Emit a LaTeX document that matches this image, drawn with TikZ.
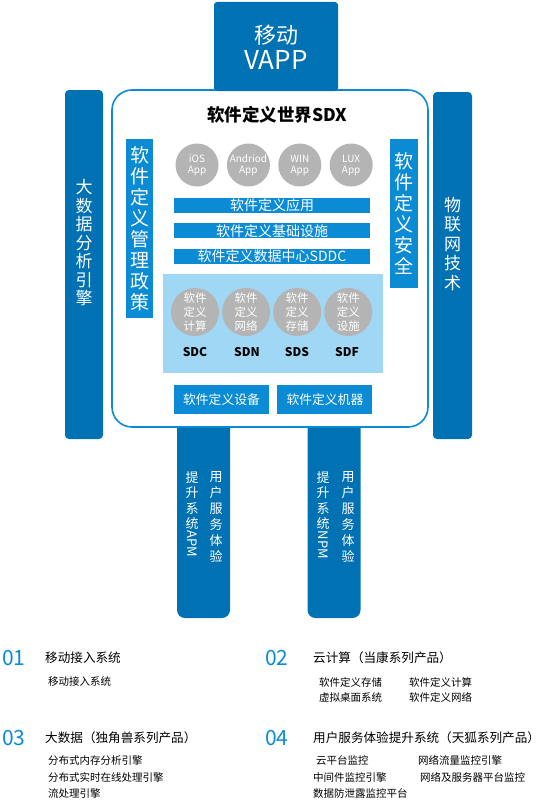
\documentclass[tikz,border=0pt]{standalone}
\usepackage{graphicx}
\usepackage{fontspec}
\setmainfont{Noto Sans CJK SC}
\usetikzlibrary{positioning}
\definecolor{darkblue}{HTML}{0071B3}
\definecolor{midblue}{HTML}{0A8BD4}
\definecolor{paleblue}{HTML}{A0D7F5}
\definecolor{appgray}{HTML}{B4B4B4}

\begin{document}
\begin{tikzpicture}[x=1pt, y=-1pt,
  bar/.style={fill=darkblue, rounded corners=4pt, inner sep=0pt},
  leg/.style={fill=darkblue, rounded corners=8pt, inner sep=0pt, minimum width=53pt, minimum height=198pt},
  vtext/.style={text=white, align=center, inner sep=0pt},
  layer/.style={fill=midblue, text=white, inner sep=0pt, minimum width=196pt, minimum height=15pt, font=\fontsize{14}{14}\selectfont},
  app/.style={circle, fill=appgray, text=white, minimum size=43pt, inner sep=0pt, align=center, font=\fontsize{10}{11}\selectfont},
  sd/.style={circle, fill=appgray, text=white, minimum size=48pt, inner sep=0pt, align=center, font=\fontsize{11.5}{14}\selectfont},
  sdlabel/.style={inner sep=0pt, font=\bfseries\fontsize{12}{12}\selectfont},
  btn/.style={fill=midblue, text=white, minimum width=95pt, minimum height=29pt, inner sep=0pt, font=\fontsize{12.8}{14}\selectfont},
  num/.style={text=midblue, anchor=west, inner sep=0pt, font=\fontsize{21}{21}\selectfont},
  head/.style={anchor=west, inner sep=0pt, font=\fontsize{12.6}{13}\selectfont},
  item/.style={anchor=west, inner sep=0pt, font=\fontsize{10.5}{11}\selectfont}]
\useasboundingbox (0,0) rectangle (549,808);

\node[bar, minimum width=38pt, minimum height=349pt] (bigdata) at (84,264.5) {};
\node[vtext, font=\fontsize{17}{18.5}\selectfont] (bigdatatxt) at (84,243) {大\\数\\据\\分\\析\\引\\擎};
\node[bar, minimum width=39pt, minimum height=347pt] (iot) at (452.5,265.5) {};
\node[vtext, font=\fontsize{17}{19.5}\selectfont] (iottxt) at (452.5,244) {物\\联\\网\\技\\术};

\node[leg] (apm) at (203.5,519) {};
\node[leg] (npm) at (334,519) {};
\node[vtext, anchor=north, font=\fontsize{13}{15.5}\selectfont] (apmtxt) at (192,471) {提\\升\\系\\统\\\rotatebox[origin=c]{-90}{APM}};
\node[vtext, anchor=north, font=\fontsize{13}{16}\selectfont] (apmux) at (216,471) {用\\户\\服\\务\\体\\验};
\node[vtext, anchor=north, font=\fontsize{13}{15.5}\selectfont] (npmtxt) at (323,471) {提\\升\\系\\统\\\rotatebox[origin=c]{-90}{NPM}};
\node[vtext, anchor=north, font=\fontsize{13}{16}\selectfont] (npmux) at (348,471) {用\\户\\服\\务\\体\\验};

\node[draw=midblue, line width=1.6pt, fill=white, rounded corners=20pt, minimum width=316pt, minimum height=337pt] (sdx) at (270,258.5) {};
\node[fill=darkblue, rounded corners=3pt, minimum width=124pt, minimum height=89pt, inner sep=0pt] (vapp) at (276,46.5) {};
\node[text=white, inner sep=0pt, font=\fontsize{22}{22}\selectfont] (vapptop) at (276,35) {移动};
\node[text=white, inner sep=0pt, font=\fontsize{26}{26}\selectfont] (vappbot) at (276,60) {VAPP};

\node[inner sep=0pt, font=\bfseries\fontsize{17.5}{18}\selectfont] (title) at (277,115) {软件定义世界SDX};
\node[fill=midblue, minimum width=27pt, minimum height=179pt, vtext, font=\fontsize{19}{21}\selectfont] (policy) at (139.5,228.5) {软\\件\\定\\义\\管\\理\\政\\策};
\node[fill=midblue, minimum width=28pt, minimum height=149pt, vtext, font=\fontsize{19}{21}\selectfont] (security) at (404,213.5) {软\\件\\定\\义\\安\\全};

\node[app] (ios) at (197,165) {iOS\\App};
\node[app, right=8pt of ios] (android) {Andriod\\App};
\node[app, right=8pt of android] (win) {WIN\\App};
\node[app, right=8pt of win] (lux) {LUX\\App};

\node[layer] (apps) at (272,205.5) {软件定义应用};
\node[layer, below=10pt of apps] (infra) {软件定义基础设施};
\node[layer, below=10pt of infra] (sddc) {软件定义数据中心SDDC};

\node[fill=paleblue, minimum width=220pt, minimum height=99pt, inner sep=0pt] (panel) at (273,323.5) {};
\node[sd] (c1) at (195,312) {软件\\定义\\计算};
\node[sd, right=2.7pt of c1] (c2) {软件\\定义\\网络};
\node[sd, right=2.7pt of c2] (c3) {软件\\定义\\存储};
\node[sd, right=2.7pt of c3] (c4) {软件\\定义\\设施};
\node[sdlabel] (sdc) at (195,352) {SDC};
\node[sdlabel] (sdn) at (247,352) {SDN};
\node[sdlabel] (sds) at (297,352) {SDS};
\node[sdlabel] (sdf) at (347,352) {SDF};

\node[btn] (device) at (221.5,399.5) {软件定义设备};
\node[btn, right=8pt of device] (machine) {软件定义机器};

\node[num] (n1) at (2,658) {01};
\node[head] (h1) at (45,658) {移动接入系统};
\node[item] (i11) at (48,682) {移动接入系统};

\node[num] (n2) at (265,658) {02};
\node[head] (h2) at (313,658) {云计算（当康系列产品）};
\node[item] (i21) at (319,682) {软件定义存储};
\node[item] (i22) at (409,682) {软件定义计算};
\node[item] (i23) at (319,697) {虚拟桌面系统};
\node[item] (i24) at (409,697) {软件定义网络};

\node[num] (n3) at (2,738) {03};
\node[head] (h3) at (45,738) {大数据（独角兽系列产品）};
\node[item] (i31) at (48,760) {分布式内存分析引擎};
\node[item] (i32) at (48,777) {分布式实时在线处理引擎};
\node[item] (i33) at (48,793) {流处理引擎};

\node[num] (n4) at (265,738) {04};
\node[head] (h4) at (313,738) {用户服务体验提升系统（天狐系列产品）};
\node[item] (i41) at (316,760) {云平台监控};
\node[item] (i42) at (418,760) {网络流量监控引擎};
\node[item] (i43) at (313,777) {中间件监控引擎};
\node[item] (i44) at (420,777) {网络及服务器平台监控};
\node[item] (i45) at (313,793) {数据防泄露监控平台};
\end{tikzpicture}
\end{document}
